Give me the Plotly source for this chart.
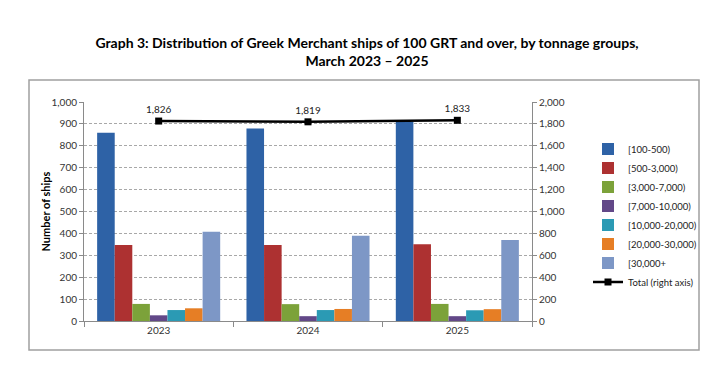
import plotly.graph_objects as go

years = ["2023", "2024", "2025"]
groups = ["[100-500)", "[500-3,000)", "[3,000-7,000)", "[7,000-10,000)",
          "[10,000-20,000)", "[20,000-30,000)", "[30,000+"]
values = {
    "[100-500)": [860, 879, 910],
    "[500-3,000)": [347, 347, 350],
    "[3,000-7,000)": [78, 77, 78],
    "[7,000-10,000)": [26, 22, 22],
    "[10,000-20,000)": [50, 50, 49],
    "[20,000-30,000)": [58, 55, 54],
    "[30,000+": [407, 389, 370],
}
totals = [1826, 1819, 1833]
total_labels = ["1,826", "1,819", "1,833"]

colors = ["#2E62A6", "#AD3131", "#7CA23A", "#624888", "#2B9AB4", "#E67E25", "#7D97C6"]

fig = go.Figure()
for g, c in zip(groups, colors):
    fig.add_trace(go.Bar(x=years, y=values[g], name=g, marker=dict(color=c, line=dict(width=0)),
                         yaxis="y"))

fig.add_trace(go.Scatter(x=years, y=totals, name="Total (right axis)", yaxis="y2",
                         mode="lines+markers+text", text=total_labels, textposition="top center",
                         textfont=dict(size=10, color="#222"),
                         line=dict(color="black", width=2.5),
                         marker=dict(symbol="square", size=7, color="black")))

axis_font = dict(family="Lato, Open Sans, sans-serif", size=10, color="#333")

fig.update_layout(
    width=714, height=375,
    margin=dict(l=84, r=182, t=102, b=54, autoexpand=False),
    paper_bgcolor="white", plot_bgcolor="white",
    barmode="group", bargap=0.176, bargroupgap=0,
    font=dict(family="Lato, Open Sans, sans-serif", size=10, color="#333"),
    title=dict(text="<b>Graph 3: Distribution of Greek Merchant ships of 100 GRT and over, by tonnage groups,<br>March 2023 – 2025</b>",
               x=0.514, xanchor="center", xref="container", y=1 - 48 / 375, yanchor="middle", yref="container",
               font=dict(family="Lato, sans-serif", size=14, color="black")),
    xaxis=dict(type="category", showline=True, linecolor="#8a8a8a", linewidth=1,
               ticks="outside", tickson="boundaries", ticklen=5, tickcolor="#8a8a8a",
               tickfont=axis_font, showgrid=False),
    yaxis=dict(range=[0, 1000], dtick=100, tickformat=",", showline=True, linecolor="#8a8a8a",
               ticks="outside", ticklen=4, tickcolor="#8a8a8a", tickfont=axis_font,
               showgrid=True, gridcolor="#a8a8a8", griddash="3px,2px", gridwidth=1,
               zeroline=False),
    yaxis2=dict(range=[0, 2000], dtick=200, tickformat=",", overlaying="y", side="right",
                showline=True, linecolor="#8a8a8a", ticks="outside", ticklen=4, tickcolor="#8a8a8a",
                tickfont=axis_font, showgrid=False, zeroline=False),
    legend=dict(x=1.125, xanchor="left", y=0.852, yanchor="top", font=dict(size=9.5, color="#222"),
                tracegroupgap=0, itemwidth=30, bgcolor="rgba(0,0,0,0)"),
    showlegend=True,
)

fig.add_annotation(text="<b>Number of ships</b>", xref="paper", yref="paper",
                   x=(45 - 84) / 448, y=0.5, textangle=-90, showarrow=False,
                   xanchor="center", yanchor="middle",
                   font=dict(family="Lato, sans-serif", size=11, color="black"))

fig.add_shape(type="rect", xref="paper", yref="paper",
              x0=(29 - 84) / 448, x1=(699 - 84) / 448, y0=(321 - 350) / 219, y1=(321 - 80) / 219,
              line=dict(color="#a0a0a0", width=1.5), layer="below")

fig.write_html("out.html", config={"displayModeBar": False},
               post_script="document.body.style.margin='0';")
